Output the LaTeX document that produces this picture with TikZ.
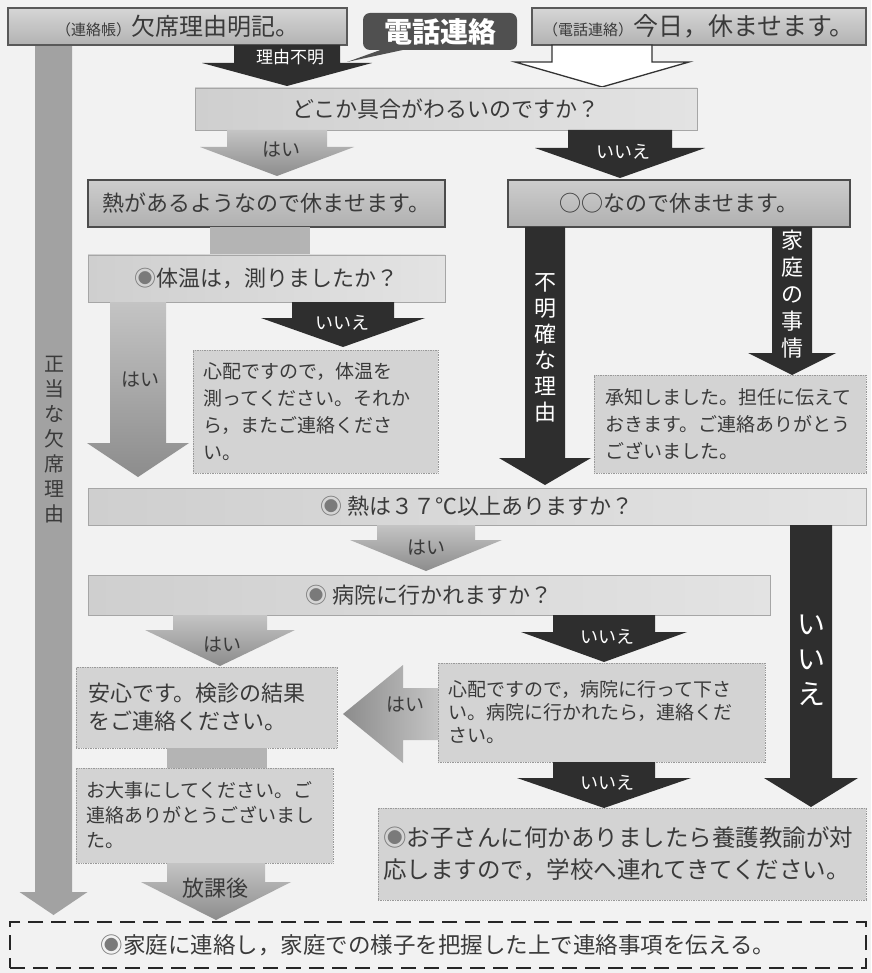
\documentclass[tikz,border=0pt]{standalone}
\usepackage{fontspec}
\setmainfont{Noto Sans CJK JP}
\definecolor{bg}{HTML}{F2F2F2}
\definecolor{ink}{HTML}{3A3A3A}
\definecolor{dark}{HTML}{2E2E2E}
\definecolor{denwa}{HTML}{505050}
\definecolor{grayA}{HTML}{C4C4C4}
\definecolor{grayB}{HTML}{8C8C8C}
\definecolor{conn}{HTML}{B4B4B4}
\definecolor{bigl}{HTML}{A2A2A2}
\definecolor{topA}{HTML}{D6D6D6}
\definecolor{topB}{HTML}{B2B2B2}
\definecolor{midA}{HTML}{CDCDCD}
\definecolor{midB}{HTML}{B0B0B0}
\definecolor{qA}{HTML}{CFCFCF}
\definecolor{qB}{HTML}{E3E3E3}
\definecolor{rfill}{HTML}{D3D3D3}
\definecolor{dotc}{HTML}{7A7A7A}
\newcommand\blockdown[7]{\path[#1] ({#2-#4},#3) -- ({#2+#4},#3) -- ({#2+#4},#5) -- ({#2+#6},#5) -- (#2,#7) -- ({#2-#6},#5) -- ({#2-#4},#5) -- cycle;}
\newcommand\mk{{\color{dotc}◉}}
\begin{document}
\begin{tikzpicture}[x=1pt,y=-1pt,
  every node/.style={inner sep=0pt, outer sep=0pt, text=ink},
  topbox/.style={anchor=north west, draw=black!65, line width=1.2pt, top color=topA, bottom color=topB},
  midbox/.style={anchor=north west, draw=black!70, line width=1.2pt, top color=midA, bottom color=midB},
  qbox/.style={anchor=north west, draw=black!35, line width=0.8pt, left color=qA, right color=qB},
  rbox/.style={anchor=north west, draw=black!40, line width=0.7pt, densely dotted, fill=rfill, align=left},
  darr/.style={fill=dark},
  garr/.style={top color=grayA, bottom color=grayB},
  lblw/.style={text=white, font=\fontsize{18}{18}\selectfont},
  lblg/.style={text=ink, font=\fontsize{19}{19}\selectfont},
  vlbl/.style={align=center},
  big/.style={font=\fontsize{22}{22}\selectfont}
]
\useasboundingbox (0,0) rectangle (871,973);
\fill[bg] (0,0) rectangle (871,973);

% big left arrow
\blockdown{fill=bigl}{53.5}{45}{18.5}{892}{34}{915}
\node[vlbl, font=\fontsize{20}{25}\selectfont] (seito) at (54,440) {正\\当\\な\\欠\\席\\理\\由};

% top boxes
\node[topbox, minimum width=339pt, minimum height=37pt] (renraku) at (8,8)
  {\fontsize{15}{15}\selectfont（連絡帳）\fontsize{24}{24}\selectfont 欠席理由明記。};
\node[topbox, minimum width=334pt, minimum height=37pt] (kyou) at (532,8)
  {\fontsize{15}{15}\selectfont（電話連絡）\fontsize{25}{25}\selectfont 今日，休ませます。};
\coordinate (tailtip) at (347,62);
\fill[denwa] (386,48) -- (tailtip) -- (412,48) -- cycle;
\node[anchor=north west, fill=denwa, rounded corners=7pt, minimum width=154pt, minimum height=37pt,
  text=white, font=\fontsize{28}{28}\selectfont\bfseries] (denwa) at (363,13) {電話連絡};

% arrows from top
\blockdown{darr}{287}{45}{53}{63}{85}{86}
\node[lblw, font=\fontsize{17}{17}\selectfont] (l0) at (290,57) {理由不明};
\blockdown{fill=white, draw=black!80, line width=1.3pt}{602}{45}{50}{62}{87}{87}

% question 1
\node[qbox, minimum width=502pt, minimum height=42pt, big] (q1) at (195,88) {どこか具合がわるいのですか？};

\blockdown{garr}{277}{130}{50}{147}{77}{176}
\node[lblg] (l1) at (281,150) {はい};
\blockdown{darr}{620}{130}{52}{148}{85}{178}
\node[lblw] (l2) at (623,152) {いいえ};

\node[midbox, minimum width=357pt, minimum height=47pt, big] (netsu) at (88,180) {熱があるようなので休ませます。};
\node[midbox, minimum width=342pt, minimum height=47pt, big] (maru) at (508,180) {○○なので休ませます。};

% connector netsu -> taion
\fill[conn] (210,227) rectangle (310,255);

\node[qbox, minimum width=357pt, minimum height=47pt, big] (taion) at (88,255) {\mk 体温は，測りましたか？};

% vertical dark arrows
\blockdown{darr}{545}{227}{20}{458}{46}{485}
\node[vlbl, text=white, font=\fontsize{22}{26}\selectfont] (l3) at (545,348) {不\\明\\確\\な\\理\\由};
\blockdown{darr}{792}{227}{20}{353}{44}{375}
\node[vlbl, text=white, font=\fontsize{22}{27}\selectfont] (l4) at (792,294) {家\\庭\\の\\事\\情};

% from taion
\blockdown{garr}{138}{302}{28}{443}{51}{477}
\node[lblg] (l5) at (140,380) {はい};
\blockdown{darr}{343}{302}{51}{318}{82}{347}
\node[lblw] (l6) at (342,323) {いいえ};

\node[rbox, minimum width=245pt, minimum height=123pt, text width=225pt, inner xsep=10pt,
  font=\fontsize{19}{27}\selectfont] (shinpai1) at (193,350)
  {心配ですので，体温を\\測ってください。それか\\ら，またご連絡くださ\\い。};
\node[rbox, minimum width=272pt, minimum height=98pt, text width=250pt, inner xsep=11pt,
  font=\fontsize{19}{27}\selectfont] (shouchi) at (594,375)
  {承知しました。担任に伝えて\\おきます。ご連絡ありがとう\\ございました。};

% question 37
\node[qbox, minimum width=778pt, minimum height=37pt, big] (q37) at (88,488) {\mk\ 熱は３７℃以上ありますか？};
\blockdown{garr}{426}{525}{49}{540}{76}{571}
\node[lblg] (l7) at (426,548) {はい};

% big right iie
\blockdown{darr}{811}{525}{21}{778}{47}{807}
\node[vlbl, text=white, font=\fontsize{28}{35}\selectfont] (l8) at (811,660) {い\\い\\え};

\node[qbox, minimum width=682pt, minimum height=40pt, big] (byouin) at (88,575) {\mk\ 病院に行かれますか？};

\blockdown{garr}{220}{615}{47}{630}{75}{666}
\node[lblg] (l9) at (222,645) {はい};
\blockdown{darr}{604}{615}{51}{632}{83}{662}
\node[lblw] (l10) at (607,637) {いいえ};

\node[rbox, minimum width=257pt, minimum height=81pt, text width=237pt, inner xsep=12pt,
  font=\fontsize{22}{28}\selectfont] (anshin) at (76,667)
  {安心です。検診の結果\\をご連絡ください。};
\node[rbox, minimum width=327pt, minimum height=99pt, text width=307pt, inner xsep=10pt,
  font=\fontsize{19}{23}\selectfont] (shinpai2) at (438,663)
  {心配ですので，病院に行って下さ\\い。病院に行かれたら，連絡くだ\\さい。};

% left-pointing hai
\path[left color=grayB, right color=grayA] (438,688) -- (403,688) -- (403,665) -- (343,714) -- (403,763) -- (403,740) -- (438,740) -- cycle;
\node[lblg] (l11) at (405,705) {はい};

% connector anshin -> odaiji
\fill[conn] (167,748) rectangle (267,768);
\node[rbox, minimum width=257pt, minimum height=95pt, text width=237pt, inner xsep=10pt,
  font=\fontsize{19}{25}\selectfont] (odaiji) at (76,768)
  {お大事にしてください。ご\\連絡ありがとうございまし\\た。};

\blockdown{darr}{604}{762}{51}{778}{87}{808}
\node[lblw] (l12) at (607,783) {いいえ};

\node[rbox, minimum width=488pt, minimum height=92pt, text width=478pt, inner xsep=5pt,
  font=\fontsize{23.5}{32}\selectfont] (okosan) at (378,808)
  {\mk お子さんに何かありましたら養護教諭が対\\応しますので，学校へ連れてきてください。};

% houkago
\blockdown{garr}{216}{863}{49}{882}{75}{920}
\node[text=ink, font=\fontsize{22}{22}\selectfont] (l13) at (215,888) {放課後};

% final dashed box
\node[anchor=north west, draw=black!85, line width=2.6pt, dash pattern=on 15pt off 8pt,
  minimum width=856pt, minimum height=46pt, font=\fontsize{22.5}{22.5}\selectfont] (final) at (10,922)
  {\mk 家庭に連絡し，家庭での様子を把握した上で連絡事項を伝える。};
\end{tikzpicture}
\end{document}
